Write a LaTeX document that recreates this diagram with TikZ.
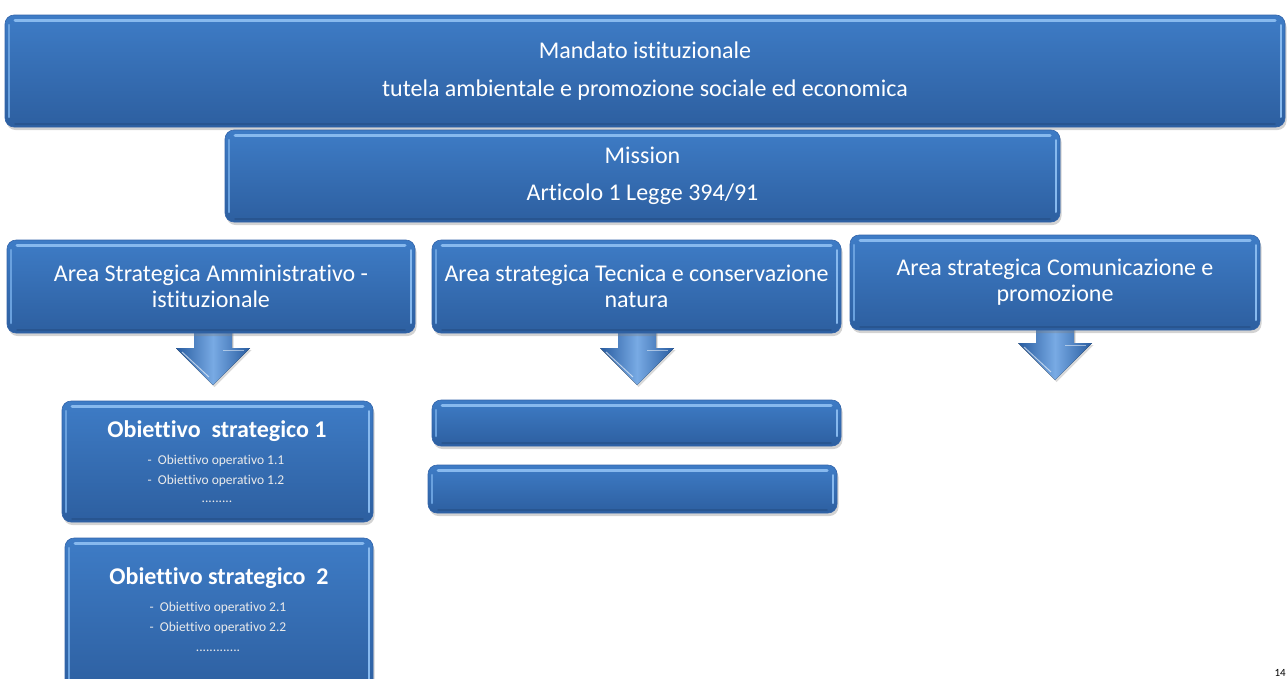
\documentclass[tikz,border=0pt]{standalone}
\usepackage{fontspec}
\setmainfont{Carlito}[Ligatures={NoCommon}]
\usetikzlibrary{shadows}
\definecolor{boxtop}{RGB}{62,124,198}
\definecolor{boxbot}{RGB}{45,95,160}
\definecolor{boxhl}{RGB}{135,185,238}
\definecolor{boxedge}{RGB}{50,100,170}
\definecolor{arrdark}{RGB}{40,92,160}
\definecolor{arrlight}{RGB}{120,170,228}
\tikzset{
  bevelbox/.style={rounded corners=9pt, draw=boxedge, line width=0.6pt,
    top color=boxtop, bottom color=boxbot, text=white, align=center,
    inner sep=0pt,
    drop shadow={shadow xshift=1.5pt, shadow yshift=-3pt, opacity=0.35},
    path picture={
      \draw[boxhl, line width=3pt, line cap=round]
        ([xshift=10pt,yshift=-5pt]path picture bounding box.north west) --
        ([xshift=-10pt,yshift=-5pt]path picture bounding box.north east);
      \draw[boxhl!60!boxtop, line width=2.5pt, line cap=round]
        ([xshift=4pt,yshift=-10pt]path picture bounding box.north west) --
        ([xshift=4pt,yshift=10pt]path picture bounding box.south west);
      \draw[boxhl, line width=2pt, line cap=round]
        ([xshift=-4pt,yshift=-10pt]path picture bounding box.north east) --
        ([xshift=-4pt,yshift=10pt]path picture bounding box.south east);
      \draw[boxbot!80!black, line width=1.5pt, line cap=round, opacity=0.5]
        ([xshift=10pt,yshift=3pt]path picture bounding box.south west) --
        ([xshift=-10pt,yshift=3pt]path picture bounding box.south east);
    }},
  bigtext/.style={font=\fontsize{24}{38}\selectfont},
  areatext/.style={font=\fontsize{24}{26}\selectfont},
  objtitle/.style={text=white, inner sep=0pt, font=\bfseries\fontsize{24}{26}\selectfont},
  objline/.style={text=white!92!black, inner sep=0pt, font=\fontsize{13.5}{15}\selectfont},
  pics/downarrow/.style={code={
    \fill[left color=arrdark, right color=arrdark, middle color=arrlight,
      drop shadow={shadow xshift=1.5pt, shadow yshift=-2pt, opacity=0.3}]
      (-19,-10) -- (19,-10) -- (19,15) -- (37,15) -- (0,52) -- (-37,15) -- (-19,15) -- cycle;
    \draw[white, opacity=0.6, line width=1pt] (-31,19) -- (-4,44);
    \draw[white, opacity=0.5, line width=1pt] (10,17) -- (31,17);
  }}
}
\begin{document}
\begin{tikzpicture}[x=1pt, y=-1pt]
\useasboundingbox (0,0) rectangle (1287,678);

% arrows (drawn first so the shafts sit behind the area boxes)
\coordinate (arr1) at (213,333);
\coordinate (arr2) at (637,333);
\coordinate (arr3) at (1055,328);
\pic at (arr1) {downarrow};
\pic at (arr2) {downarrow};
\pic at (arr3) {downarrow};

\node[bevelbox, bigtext, minimum width=1280pt, minimum height=112pt] (mandato) at (645,71)
  {Mandato istituzionale\\tutela ambientale e promozione sociale ed economica};
\node[bevelbox, bigtext, font=\fontsize{24}{37}\selectfont, minimum width=835pt, minimum height=92pt] (mission) at (642.5,176)
  {Mission\\Articolo 1 Legge 394/91};

\node[bevelbox, areatext, minimum width=408pt, minimum height=93pt] (area1) at (211,286.5)
  {Area Strategica Amministrativo -\\istituzionale};
\node[bevelbox, areatext, minimum width=409pt, minimum height=93pt] (area2) at (636.5,286.5)
  {Area strategica Tecnica e conservazione\\natura};
\node[bevelbox, areatext, minimum width=410pt, minimum height=95pt] (area3) at (1055,282.5)
  {Area strategica Comunicazione e\\promozione};

\node[bevelbox, minimum width=311pt, minimum height=121pt] (obj1) at (217.5,461.5) {};
\node[objtitle] (obj1t) at (217,431) {Obiettivo\ \ strategico 1};
\node[objline] (obj1a) at (216,461) {-\ \ Obiettivo operativo 1.1};
\node[objline] (obj1b) at (216,481) {-\ \ Obiettivo operativo 1.2};
\node[objline] (obj1c) at (217,502) {.........};

\node[bevelbox, minimum width=308pt, minimum height=157pt] (obj2) at (219,616.5) {};
\node[objtitle] (obj2t) at (219,578) {Obiettivo strategico\ \ 2};
\node[objline] (obj2a) at (218,608) {-\ \ Obiettivo operativo 2.1};
\node[objline] (obj2b) at (218,628) {-\ \ Obiettivo operativo 2.2};
\node[objline] (obj2c) at (218,651) {.............};

\node[bevelbox, minimum width=409pt, minimum height=46pt] (empty1) at (636.5,423) {};
\node[bevelbox, minimum width=409pt, minimum height=48pt] (empty2) at (632.5,489) {};

\node[anchor=south east, inner sep=1pt, font=\fontsize{11}{12}\selectfont] (pagenum) at (1287,678) {14};
\end{tikzpicture}
\end{document}
